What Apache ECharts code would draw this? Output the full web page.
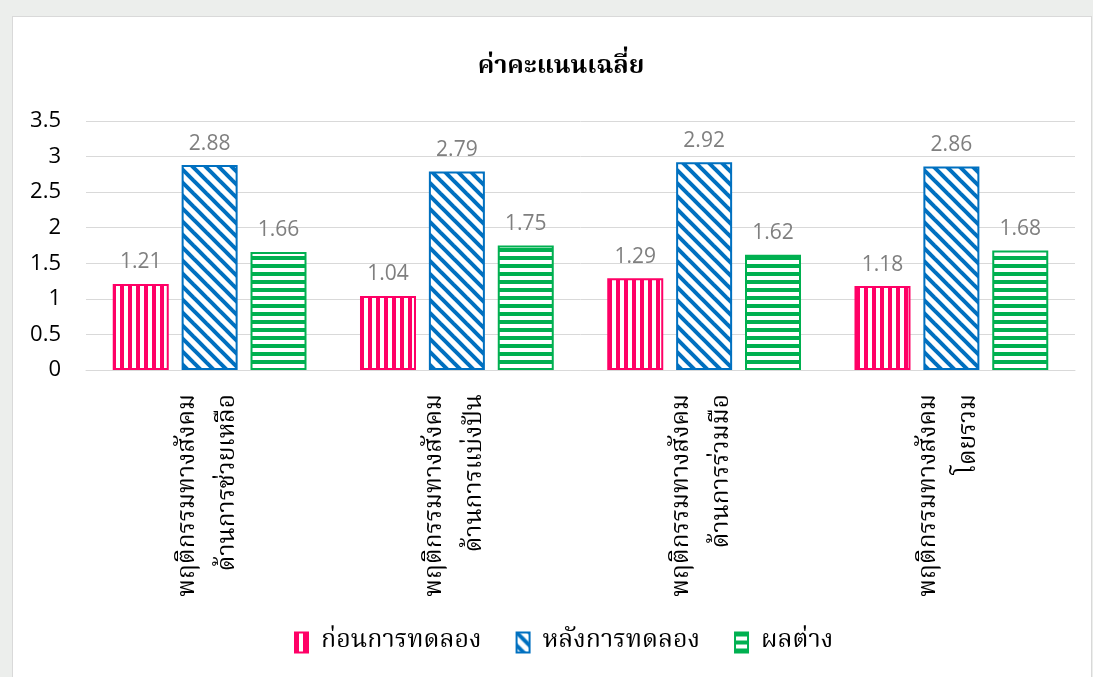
<!DOCTYPE html>
<html>
<head>
<meta charset="utf-8">
<script src="https://cdn.jsdelivr.net/npm/echarts@6/dist/echarts.min.js"></script>
<style>
  html, body { margin: 0; padding: 0; background: #eceeec; }
  #frame { position: absolute; left: 12px; top: 16px; width: 1078px; height: 670px; background: #fff; border: 1px solid #d9d9d9; }
  #chart { position: absolute; left: 0; top: 0; width: 1093px; height: 677px; }
</style>
</head>
<body>
<div id="frame"></div>
<div id="chart"></div>
<script>
// data
const categories = [
  'พฤติกรรมทางสังคม\nด้านการช่วยเหลือ',
  'พฤติกรรมทางสังคม\nด้านการแบ่งปัน',
  'พฤติกรรมทางสังคม\nด้านการร่วมมือ',
  'พฤติกรรมทางสังคม\nโดยรวม'
]
const seriesNames = ['ก่อนการทดลอง', 'หลังการทดลอง', 'ผลต่าง']
const beforeScores = [1.21, 1.04, 1.29, 1.18]
const afterScores = [2.88, 2.79, 2.92, 2.86]
const diffScores = [1.66, 1.75, 1.62, 1.68]

const thaiFont = '"Noto Serif Thai", "Noto Sans Thai", "TH Sarabun New", Norasi, Garuda, Loma, serif'
const numFont = '"Open Sans", "Noto Sans", sans-serif'

// pattern tiles
function tile(size, draw) {
  const c = document.createElement('canvas')
  c.width = size
  c.height = size
  const ctx = c.getContext('2d')
  ctx.fillStyle = '#fff'
  ctx.fillRect(0, 0, size, size)
  draw(ctx, size)
  return c
}
const pinkTile = tile(8, (ctx) => {
  ctx.fillStyle = '#FF0066'
  ctx.fillRect(0, 0, 4, 8)
})
const blueTile = tile(13, (ctx, p) => {
  ctx.strokeStyle = '#0070C0'
  ctx.lineWidth = 4
  ;[-p, 0, p].forEach(off => {
    ctx.beginPath()
    ctx.moveTo(-2, off - 2)
    ctx.lineTo(p + 2, off + p + 2)
    ctx.stroke()
  })
})
const greenTile = tile(8, (ctx) => {
  ctx.fillStyle = '#00B050'
  ctx.fillRect(0, 0, 8, 4)
})

const seriesStyle = [
  { tile: pinkTile, border: '#FF0066' },
  { tile: blueTile, border: '#0070C0' },
  { tile: greenTile, border: '#00B050' }
]
const seriesData = [beforeScores, afterScores, diffScores]

const chart = echarts.init(document.getElementById('chart'))
chart.setOption({
  animation: false,
  title: {
    text: 'ค่าคะแนนเฉลี่ย',
    left: 556,
    textAlign: 'center',
    top: 51,
    textStyle: { fontFamily: thaiFont, fontSize: 25, fontWeight: 'bold', color: '#000' }
  },
  legend: {
    bottom: 17,
    left: 289,
    itemWidth: 13,
    itemHeight: 20,
    itemGap: 34,
    icon: 'rect',
    data: seriesNames,
    textStyle: { fontFamily: thaiFont, fontSize: 25, color: '#000', padding: [0, 0, 0, 8] }
  },
  grid: { left: 86, right: 18, top: 121, bottom: 307 },
  xAxis: {
    type: 'category',
    data: categories,
    axisLine: { lineStyle: { color: '#d9d9d9' } },
    axisTick: { show: false },
    axisLabel: {
      rotate: 90,
      interval: 0,
      margin: 24,
      fontFamily: thaiFont,
      fontSize: 24.5,
      lineHeight: 40,
      color: '#000'
    }
  },
  yAxis: {
    type: 'value',
    min: 0,
    max: 3.5,
    interval: 0.5,
    axisLine: { show: false },
    axisTick: { show: false },
    splitLine: { lineStyle: { color: '#d9d9d9' } },
    axisLabel: { fontFamily: numFont, fontSize: 22, color: '#000', margin: 25 }
  },
  series: seriesNames.map((name, i) => ({
    name: name,
    type: 'bar',
    data: seriesData[i],
    barWidth: 56,
    barGap: '23%',
    itemStyle: {
      color: { image: seriesStyle[i].tile, repeat: 'repeat' },
      borderColor: seriesStyle[i].border,
      borderWidth: 2
    },
    label: {
      show: true,
      position: 'top',
      distance: 11,
      fontFamily: numFont,
      fontSize: 21,
      color: '#7f7f7f'
    }
  }))
})
</script>
</body>
</html>
